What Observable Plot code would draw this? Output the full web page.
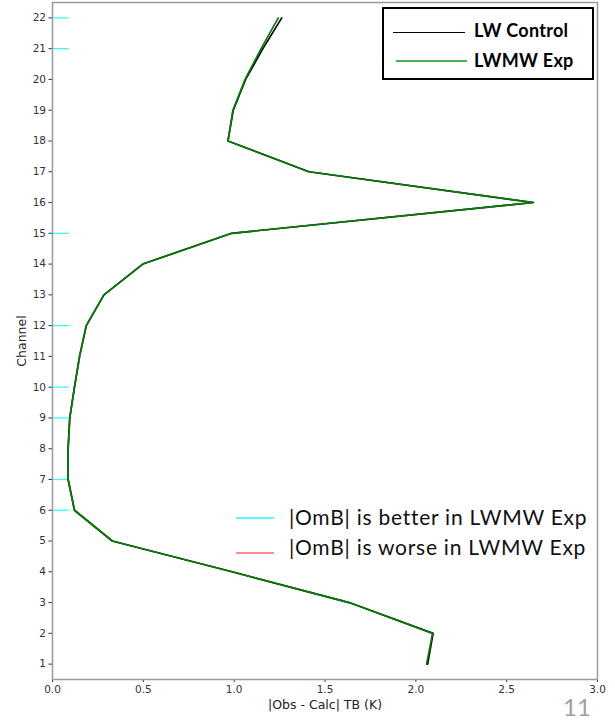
<!DOCTYPE html>
<html>
<head>
<meta charset="utf-8">
<script src="https://cdn.jsdelivr.net/npm/d3@7"></script>
<script src="https://cdn.jsdelivr.net/npm/@observablehq/plot@0.6"></script>
<style>
  body { margin: 0; background: #fff; }
  #wrap { position: relative; width: 615px; height: 721px; overflow: hidden; background: #fff; }
  #chart svg { display: block; }
  .lg { position: absolute; font-family: Lato, "Open Sans", sans-serif; }
  #topLegend { left: 382px; top: 7px; width: 208px; height: 69px; border: 2px solid #000; background: #fff; }
  .sw { position: absolute; }
  .lbl { position: absolute; white-space: nowrap; }
</style>
</head>
<body>
<div id="wrap">
  <div id="chart"></div>
</div>
<script>
// ---- data ----
const channels = [1, 2, 3, 4, 5, 6, 7, 8, 9, 10, 11, 12, 13, 14, 15, 16, 17, 18, 19, 20, 21, 22];
const lwControl = [2.065, 2.095, 1.633, 0.988, 0.329, 0.121, 0.086, 0.086, 0.095, 0.121, 0.149, 0.186, 0.283, 0.497, 0.986, 2.648, 1.412, 0.966, 0.995, 1.063, 1.158, 1.262];
const lwmwExp   = [2.059, 2.092, 1.633, 0.988, 0.329, 0.121, 0.086, 0.086, 0.095, 0.121, 0.149, 0.186, 0.283, 0.497, 0.986, 2.645, 1.410, 0.966, 0.993, 1.060, 1.148, 1.243];
const betterChannels = [6, 7, 9, 10, 12, 15, 21, 22];
const worseChannels = [];
const xTicks = [0, 0.5, 1.0, 1.5, 2.0, 2.5, 3.0];
const yTicks = channels;
const seriesNames = ["LW Control", "LWMW Exp"];
const omBLabels = ["|OmB| is better in LWMW Exp", "|OmB| is worse in LWMW Exp"];
const xLabel = "|Obs - Calc| TB (K)";
const yLabel = "Channel";
const pageNumber = "11";

const ctrl = channels.map((c, i) => ({channel: c, value: lwControl[i]}));
const exp = channels.map((c, i) => ({channel: c, value: lwmwExp[i]}));

const markLen = 0.092;

const plot = Plot.plot({
  width: 615,
  height: 721,
  marginLeft: 52,
  marginRight: 18,
  marginTop: 2,
  marginBottom: 42,
  style: {fontFamily: "DejaVu Sans", fontSize: "10.5px", color: "#333", background: "#fff"},
  x: {domain: [0, 3], ticks: xTicks, tickFormat: d3.format(".1f"), tickSize: 3, tickPadding: 3,
      label: xLabel, labelAnchor: "center", labelOffset: 29},
  y: {domain: [0.5, 22.5], ticks: yTicks, tickFormat: d3.format("d"), tickSize: 3.5, tickPadding: 3,
      label: yLabel, labelAnchor: "center", labelOffset: 35},
  marks: [
    Plot.ruleY(betterChannels, {y: d => d, x1: 0, x2: markLen, stroke: "#33ffff", strokeWidth: 1.3}),
    Plot.ruleY(worseChannels, {y: d => d, x1: 0, x2: markLen, stroke: "#f08080", strokeWidth: 1.3}),
    Plot.line(ctrl, {x: "value", y: "channel", stroke: "#000", strokeWidth: 1.7}),
    Plot.line(exp, {x: "value", y: "channel", stroke: "#0a7a0a", strokeWidth: 1.7}),
    Plot.frame({stroke: "#9a9a9a", strokeWidth: 1.5})
  ]
});
document.getElementById("chart").appendChild(plot);

// clean axis labels (remove arrows) and size them
d3.select(plot).selectAll("text").each(function() {
  const s = this.textContent;
  const core = s.replace(/[↑↓→←]/g, "").trim();
  if (core === xLabel || core === yLabel) {
    this.textContent = core;
    this.style.fontSize = "12.5px";
    this.style.fill = "#222";
  }
});

// page number as SVG text
d3.select(plot).append("text")
  .attr("x", 577).attr("y", 716)
  .attr("font-family", "Lato, 'Open Sans', sans-serif")
  .attr("font-size", 24)
  .attr("fill", "#a0a0a0")
  .text(pageNumber);

const wrapEl = document.getElementById("wrap");

// top legend
const topLeg = document.createElement("div");
topLeg.id = "topLegend"; topLeg.className = "lg";
const topColors = ["#000", "#4fb04f"];
const topSw = [[9, 81, 22.5], [12, 83, 51]];
seriesNames.forEach((name, i) => {
  const sw = document.createElement("div");
  sw.className = "sw";
  sw.style.left = topSw[i][0] + "px";
  sw.style.width = (topSw[i][1] - topSw[i][0]) + "px";
  sw.style.top = topSw[i][2] + "px";
  sw.style.height = i === 0 ? "1.6px" : "2px";
  sw.style.background = topColors[i];
  topLeg.appendChild(sw);
  const t = document.createElement("div");
  t.className = "lbl";
  t.textContent = name;
  t.style.left = "90px";
  t.style.top = (i === 0 ? 11 : 41) + "px";
  t.style.fontSize = "18px";
  t.style.letterSpacing = "0.3px";
  t.style.fontWeight = "bold";
  t.style.lineHeight = "20px";
  topLeg.appendChild(t);
});
wrapEl.appendChild(topLeg);

// bottom legend
const omColors = ["#5ff8f8", "#f29090"];
omBLabels.forEach((name, i) => {
  const sw = document.createElement("div");
  sw.className = "sw";
  sw.style.left = "236px";
  sw.style.width = "38px";
  sw.style.top = (i === 0 ? 517 : 552) + "px";
  sw.style.height = "1.5px";
  sw.style.background = omColors[i];
  wrapEl.appendChild(sw);
  const t = document.createElement("div");
  t.className = "lbl lg";
  t.textContent = name;
  t.style.left = "289px";
  t.style.top = (i === 0 ? 505 : 535) + "px";
  t.style.fontSize = "21px";
  t.style.letterSpacing = "0.75px";
  t.style.lineHeight = "24px";
  t.style.color = "#111";
  wrapEl.appendChild(t);
});
</script>
</body>
</html>
